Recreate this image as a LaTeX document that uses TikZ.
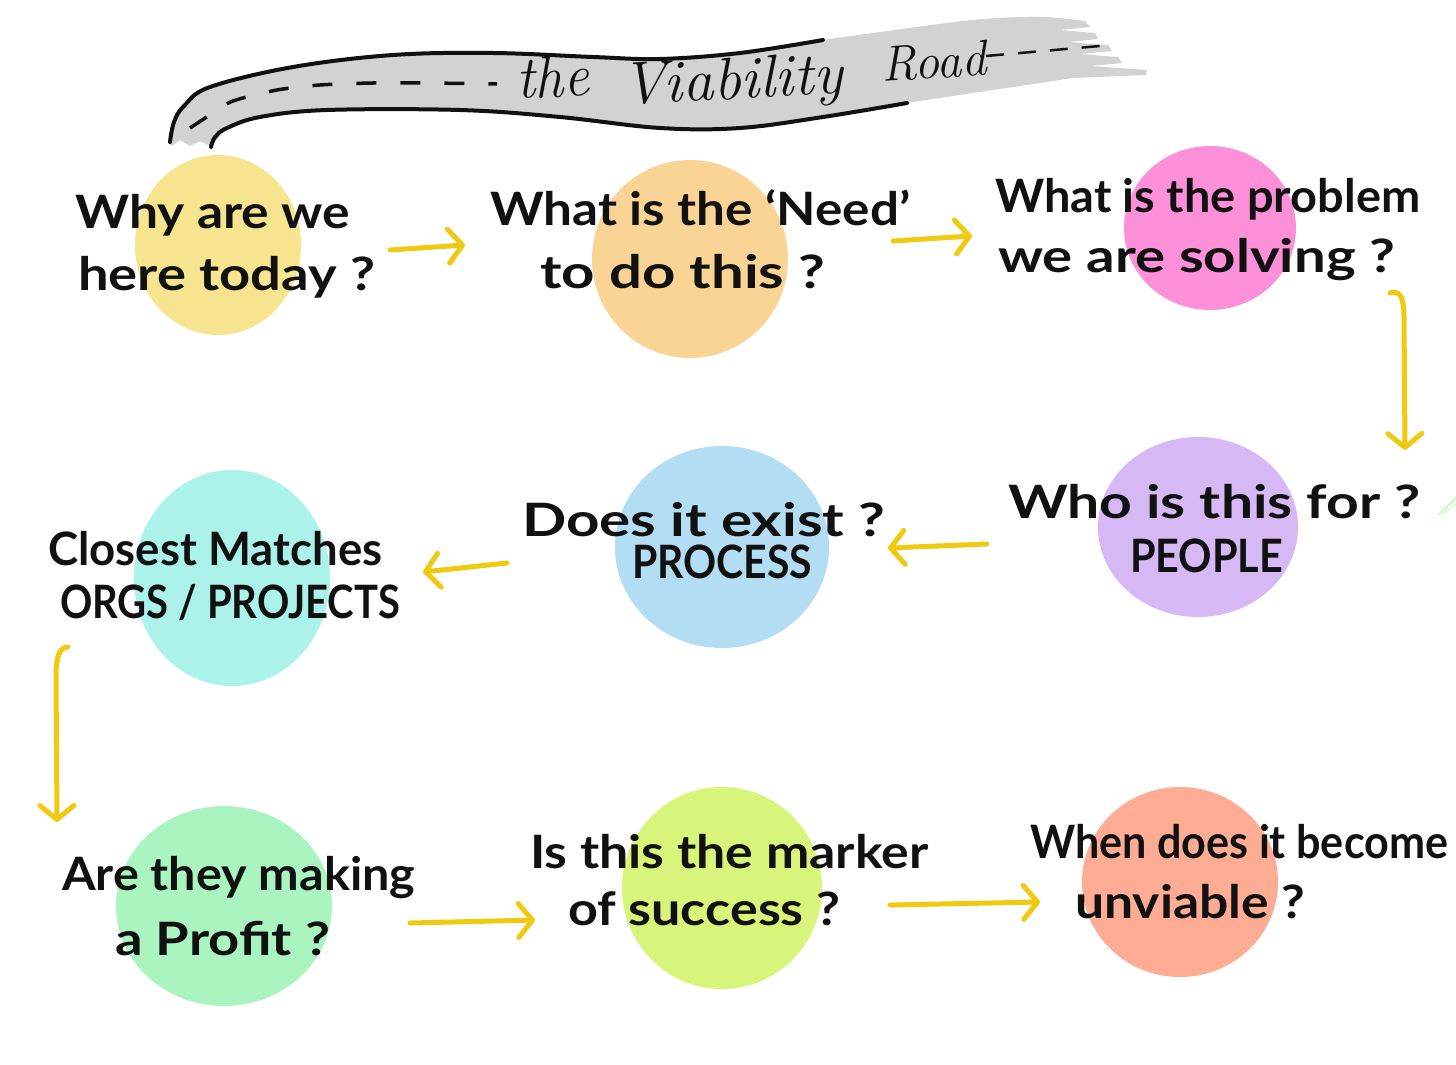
\documentclass[tikz,border=0pt]{standalone}
\usepackage{fontspec}
\usepackage{graphicx}
\newfontfamily\hand{Lato}
\usetikzlibrary{shapes.geometric,arrows.meta}
\definecolor{cYel}{HTML}{F7E48E}
\definecolor{cOra}{HTML}{FAD495}
\definecolor{cPink}{HTML}{FD90D9}
\definecolor{cPurp}{HTML}{D5B8F4}
\definecolor{cBlue}{HTML}{B2DDF3}
\definecolor{cCyan}{HTML}{ABF2EA}
\definecolor{cGreen}{HTML}{A9F4BF}
\definecolor{cLime}{HTML}{D9F47A}
\definecolor{cSalm}{HTML}{FFAC95}
\definecolor{cArr}{HTML}{F0CA10}
\definecolor{roadgrey}{HTML}{D2D2D2}
\definecolor{ink}{HTML}{111111}
\newcommand\hwl[2]{\resizebox{#1pt}{\height}{#2}}
\newcommand\qlines[6]{\vtop{\baselineskip=#6pt\lineskiplimit=-1000pt\lineskip=0pt\hbox{\hwl{#1}{#2}}\hbox{\kern#3pt\hwl{#4}{#5}}}}
\tikzset{
  blob/.style={ellipse, inner sep=0pt, draw=none},
  qtext/.style={anchor=base west, inner sep=0pt, font=\hand\bfseries\fontsize{46}{46}\selectfont, text=ink},
  roadtext/.style={anchor=base west, inner sep=0pt, font=\itshape\fontsize{60}{60}\selectfont, text=ink},
  arr/.style={draw=cArr, line width=5pt, line cap=round, line join=round, -{Straight Barb[length=14pt,width=34pt,round]}},
  edge/.style={draw=ink, line width=4pt, line cap=round},
  roaddash/.style={draw=ink, line width=3.5pt}
}
\begin{document}
\begin{tikzpicture}[x=1pt,y=-1pt]
\useasboundingbox (0,0) rectangle (1456,1065);
\fill[white] (0,0) rectangle (1456,1065);
% blobs
\node[blob, fill=cYel,   minimum width=166pt, minimum height=180pt] (b1) at (218,245) {};
\node[blob, fill=cOra,   minimum width=196pt, minimum height=198pt] (b2) at (690,259) {};
\node[blob, fill=cPink,  minimum width=172pt, minimum height=164pt] (b3) at (1210,228) {};
\node[blob, fill=cPurp,  minimum width=200pt, minimum height=180pt] (b4) at (1198,527) {};
\node[blob, fill=cBlue,  minimum width=214pt, minimum height=202pt] (b5) at (722,547) {};
\node[blob, fill=cCyan,  minimum width=196pt, minimum height=216pt] (b6) at (232,578) {};
\node[blob, fill=cGreen, minimum width=216pt, minimum height=200pt] (b7) at (224,906) {};
\node[blob, fill=cLime,  minimum width=200pt, minimum height=202pt] (b8) at (722,888) {};
\node[blob, fill=cSalm,  minimum width=196pt, minimum height=190pt] (b9) at (1180,882) {};
% road
\fill[roadgrey] plot[smooth, tension=0.6] coordinates {(168,143) (172,125) (182,108) (210,87) (293,67) (393,55) (493,53) (593,57) (660,59) (740,53) (823,40) (873,33) (973,20) (1040,17) (1085,21)}
  -- (1090,27) -- (1060,30) -- (1095,33) -- (1098,39) -- (1068,42) -- (1108,45) -- (1112,51) -- (1080,54) -- (1118,57) -- (1122,63) -- (1090,66) -- (1147,70) -- (1146,75) -- (1073,78)
  -- plot[smooth, tension=0.6] coordinates {(1073,78) (1040,83) (973,93) (907,103) (823,117) (740,128) (660,128) (560,117) (460,110) (327,110) (260,117) (227,130) (212,147)}
  -- (200,141) -- (190,146) -- (180,140) -- (172,146) -- cycle;
\draw[edge] plot[smooth, tension=0.6] coordinates {(170,142) (174,122) (184,106) (210,87) (293,67) (393,55) (493,53) (593,57) (660,59) (740,53) (823,40)};
\draw[edge] plot[smooth, tension=0.6] coordinates {(211,147) (215,137) (227,128) (260,117) (327,110) (460,110) (560,117) (660,128) (740,128) (823,117) (907,103)};
\draw[roaddash, dash pattern=on 20pt off 24pt] plot[smooth] coordinates {(190,128) (213,113) (233,101) (277,90) (320,85) (373,83) (427,83) (497,84)};
\draw[roaddash, line width=2.5pt, dash pattern=on 18pt off 14pt] (986,56) -- (1100,46);
\node[roadtext, rotate=3] (r1) at (517,99) {\hwl{73}{the}};
\node[roadtext, rotate=3] (r2) at (622,105) {\hwl{222}{Viability}};
\node[roadtext, rotate=4, font=\itshape\fontsize{50}{50}\selectfont] (r3) at (882,82) {Road};
% questions
\node[qtext] (q1) at (75,228) {\qlines{275}{Why are we}{3}{297}{here today ?}{62}};
\node[qtext] (q2) at (490,225) {\qlines{420}{What is the ‘Need’}{50}{285}{to do this ?}{63}};
\node[qtext] (q3) at (995,212) {\qlines{425}{What is the problem}{3}{397}{we are solving ?}{60}};
\node[qtext] (q4) at (1008,518) {\qlines{412}{Who is this for ?}{122}{153}{PEOPLE}{54}};
\node[qtext] (q5) at (522,536) {\qlines{363}{Does it exist ?}{110}{180}{PROCESS}{42}};
\node[qtext] (q6) at (48,565) {\qlines{334}{Closest Matches}{12}{340}{ORGS / PROJECTS}{53}};
\node[qtext] (q7) at (62,890) {\qlines{353}{Are they making}{53}{215}{a Profit ?}{65}};
\node[qtext] (q8) at (530,868) {\qlines{398}{Is this the marker}{38}{272}{of success ?}{57}};
\node[qtext] (q9) at (1030,858) {\qlines{418}{When does it become}{45}{230}{unviable ?}{60}};
% connectors
\coordinate (a1s) at (390,250); \coordinate (a1e) at (465,245);
\coordinate (a2s) at (893,241); \coordinate (a2e) at (972,236);
\coordinate (a3s) at (1390,293); \coordinate (a3e) at (1405,450);
\coordinate (a4s) at (987,544); \coordinate (a4e) at (888,548);
\coordinate (a5s) at (507,563); \coordinate (a5e) at (423,572);
\coordinate (a6s) at (68,647); \coordinate (a6e) at (57,822);
\coordinate (a7s) at (410,923); \coordinate (a7e) at (535,920);
\coordinate (a8s) at (890,905); \coordinate (a8e) at (1040,902);
\draw[arr] (a1s) -- (a1e);
\draw[arr] (a2s) -- (a2e);
\draw[arr] (a3s) .. controls (1400,290) and (1404,297) .. (1404,318) -- (a3e);
\draw[arr] (a4s) -- (a4e);
\draw[arr] (a5s) -- (a5e);
\draw[arr] (a6s) .. controls (60,647) and (56,656) .. (56,675) -- (a6e);
\draw[arr] (a7s) -- (a7e);
\draw[arr] (a8s) -- (a8e);
% stray green mark at right edge
\draw[draw=green!35!white, line width=1.2pt, line cap=round] (1438,515) -- (1456,498);
\draw[draw=green!25!white, line width=1pt, line cap=round] (1443,514) -- (1456,504);
\end{tikzpicture}
\end{document}
